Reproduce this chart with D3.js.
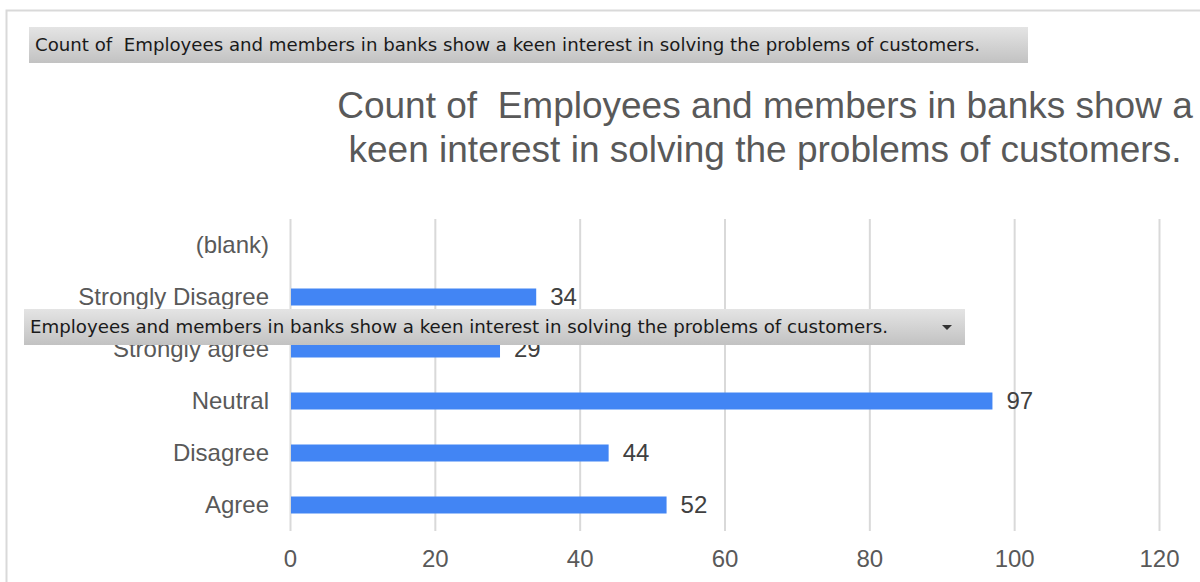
<!DOCTYPE html>
<html>
<head>
<meta charset="utf-8">
<script src="https://cdn.jsdelivr.net/npm/d3@7"></script>
<style>
  html, body { margin: 0; padding: 0; background: #fff; }
  svg { display: block; }
  svg text { white-space: pre; }
</style>
</head>
<body>
<svg id="chart" width="1200" height="582"></svg>
<script>
// Survey responses, top row first
const categories = ["(blank)", "Strongly Disagree", "Strongly agree", "Neutral", "Disagree", "Agree"];
const counts = [null, 34, 29, 97, 44, 52];
const tickValues = [0, 20, 40, 60, 80, 100, 120];
const titleLines = ["Count of  Employees and members in banks show a", "keen interest in solving the problems of customers."];
const valueFieldLabel = "Count of  Employees and members in banks show a keen interest in solving the problems of customers.";
const axisFieldLabel = "Employees and members in banks show a keen interest in solving the problems of customers.";

const data = categories.map((c, i) => ({ category: c, value: counts[i] }));

const svg = d3.select("#chart");
const sans = "'Liberation Sans', Arial, sans-serif";

// Gradient used by the pivot field buttons
const defs = svg.append("defs");
const grad = defs.append("linearGradient").attr("id", "btnGrad").attr("x1", 0).attr("y1", 0).attr("x2", 0).attr("y2", 1);
grad.append("stop").attr("offset", "0%").attr("stop-color", "#e4e4e4");
grad.append("stop").attr("offset", "100%").attr("stop-color", "#c2c2c2");

// Chart frame
svg.append("path")
  .attr("d", "M6.5,582 L6.5,10.5 L1200,10.5")
  .attr("fill", "none").attr("stroke", "#d9d9d9").attr("stroke-width", 2);

// Scales
const x = d3.scaleLinear().domain([0, 120]).range([290, 1159]);
const y = d3.scaleBand().domain(categories).range([219, 531]).paddingInner(0.67).paddingOuter(0.335);

// Gridlines
svg.append("g").selectAll("line").data(tickValues).join("line")
  .attr("x1", d => x(d) + 0.5).attr("x2", d => x(d) + 0.5)
  .attr("y1", 219).attr("y2", 531)
  .attr("stroke", "#d9d9d9").attr("stroke-width", 2);

// X axis tick labels
const xAxis = d3.axisBottom(x).tickValues(tickValues).tickSize(0).tickPadding(0);
const gx = svg.append("g").attr("transform", "translate(0,567)").call(xAxis);
gx.select(".domain").remove();
gx.selectAll("text")
  .attr("dy", 0).attr("y", 0)
  .style("font-family", sans)
  .style("font-size", "24px").attr("fill", "#595959");

// Y axis category labels
const yAxis = d3.axisLeft(y).tickSize(0).tickPadding(0);
const gy = svg.append("g").attr("transform", "translate(269,0)").call(yAxis);
gy.select(".domain").remove();
gy.selectAll("text")
  .attr("dy", "0.35em")
  .style("font-family", sans)
  .style("font-size", "24px").attr("fill", "#595959");

// Bars
const rows = data.filter(d => d.value != null);
svg.append("g").selectAll("rect").data(rows).join("rect")
  .attr("x", x(0) + 1)
  .attr("y", d => y(d.category) + y.bandwidth() / 2 - 8.5)
  .attr("width", d => x(d.value) - x(0) - 1)
  .attr("height", 17)
  .attr("fill", "#4285f4");

// Value labels
svg.append("g").selectAll("text").data(rows).join("text")
  .attr("x", d => x(d.value) + 14)
  .attr("y", d => y(d.category) + y.bandwidth() / 2)
  .attr("dy", "0.35em")
  .style("font-family", sans)
  .style("font-size", "24px").attr("fill", "#404040")
  .text(d => d.value);

// Title
svg.append("g").selectAll("text").data(titleLines).join("text")
  .attr("x", 765).attr("y", (d, i) => 118 + i * 44)
  .attr("text-anchor", "middle")
  .style("font-family", sans)
  .style("font-size", "37px").attr("fill", "#595959")
  .text(d => d);

// Pivot field buttons
function fieldButton(x0, y0, w, h, label, textW, arrow) {
  const g = svg.append("g");
  g.append("rect").attr("x", x0).attr("y", y0).attr("width", w).attr("height", h).attr("fill", "url(#btnGrad)");
  g.append("text")
    .attr("x", x0 + 6).attr("y", y0 + h / 2 + 6)
    .attr("textLength", textW).attr("lengthAdjust", "spacingAndGlyphs")
    .style("font-family", "'DejaVu Sans Condensed', 'DejaVu Sans', sans-serif")
    .style("font-size", "17px").attr("fill", "#1a1a1a")
    .text(label);
  if (arrow) {
    const ax = x0 + w - 18, ay = y0 + h / 2;
    g.append("path").attr("d", `M${ax - 5},${ay - 2} L${ax + 5},${ay - 2} L${ax},${ay + 3} Z`).attr("fill", "#333");
  }
}
fieldButton(29, 27, 999, 36, valueFieldLabel, 945, false);
fieldButton(24, 309, 941, 36, axisFieldLabel, 858, true);
</script>
</body>
</html>
